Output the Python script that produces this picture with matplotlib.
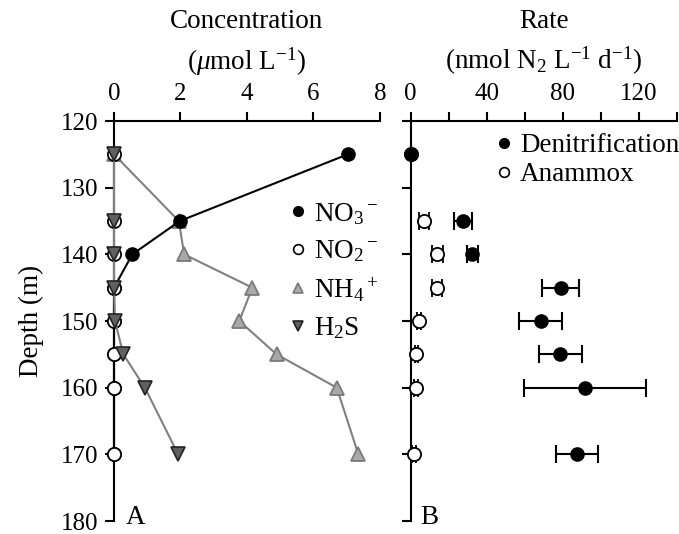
import numpy as np
import matplotlib
matplotlib.use("Agg")
import matplotlib.pyplot as plt
from matplotlib.lines import Line2D

plt.rcParams['font.family'] = ['Liberation Serif', 'DejaVu Serif']
plt.rcParams['mathtext.fontset'] = 'custom'
plt.rcParams['mathtext.rm'] = 'Liberation Serif'
plt.rcParams['mathtext.it'] = 'Liberation Serif:italic'
plt.rcParams['mathtext.bf'] = 'Liberation Serif:bold'
plt.rcParams['font.size'] = 18

# ---- data ----
depth = [125, 135, 140, 145, 150, 155, 160, 170]
no3 = [7.03, 1.98, 0.55, 0.0, 0.0, 0.0, 0.0, 0.0]
no2 = [0.0, 0.0, 0.0, 0.0, 0.0, 0.0, 0.0, 0.0]
nh4 = [0.0, 1.95, 2.11, 4.16, 3.77, 4.89, 6.70, 7.35]
h2s = [0.0, 0.0, 0.0, 0.0, 0.03, 0.28, 0.93, 1.93]

denit = [0.0, 27.5, 32.3, 78.9, 68.4, 78.8, 91.6, 87.5]
denit_err = [0.0, 4.7, 2.9, 9.6, 11.4, 11.4, 32.2, 11.0]
anammox = [0.0, 7.0, 14.0, 13.9, 4.3, 3.0, 2.6, 1.9]
anammox_err = [0.0, 2.6, 2.8, 2.8, 1.0, 1.0, 1.0, 1.0]

conc_ticks = [0, 2, 4, 6, 8]
rate_ticks = [0, 40, 80, 120]
depth_ticks = [120, 130, 140, 150, 160, 170, 180]

FS = 19.5
fig = plt.figure(figsize=(6.79, 5.34), dpi=100)
axA = fig.add_axes([0.1679, 0.0243, 0.3917, 0.7491])
axB = fig.add_axes([0.6049, 0.0243, 0.3917, 0.7491])

def style(ax):
    for s in ['right', 'bottom']:
        ax.spines[s].set_visible(False)
    for s in ['top', 'left']:
        ax.spines[s].set_linewidth(1.5)
        ax.spines[s].set_zorder(1)
    ax.xaxis.tick_top()
    ax.xaxis.set_label_position('top')
    ax.tick_params(which='both', direction='out', length=6.5, width=1.5, labelsize=18, pad=5)
    ax.set_ylim(180, 120)
    ax.set_yticks(depth_ticks)

style(axA)
style(axB)

ms = 9.5
# Panel A
axA.plot(nh4, depth, '-^', color='#808080', mfc='#a8a8a8', mec='#7a7a7a', ms=ms, mew=1.3, lw=1.5, zorder=3, clip_on=False)
axA.plot(no3, depth, '-o', color='black', mfc='black', mec='black', ms=ms, lw=1.5, zorder=4, clip_on=False)
axA.plot(no2, depth, '-o', color='black', mfc='white', mec='black', ms=ms, mew=1.3, lw=1.5, zorder=5, clip_on=False)
axA.plot(h2s, depth, '-v', color='#808080', mfc='#606060', mec='#222222', ms=ms, mew=1.2, lw=1.5, zorder=6, clip_on=False)
axA.set_xlim(0, 8)
axA.set_xticks(conc_ticks)
axA.set_xticklabels([str(t) for t in conc_ticks])
axA.set_ylabel('Depth (m)', fontsize=FS, labelpad=12)
axA.set_xlabel('Concentration\n($\\mu$mol L$^{-1}$)', fontsize=FS, labelpad=10, linespacing=1.45)
axA.text(0.35, 180.4, 'A', fontsize=FS, va='baseline', ha='left')

lms = 7
handlesA = [
    Line2D([], [], ls='none', marker='o', mfc='black', mec='black', ms=lms),
    Line2D([], [], ls='none', marker='o', mfc='white', mec='black', ms=lms, mew=1.2),
    Line2D([], [], ls='none', marker='^', mfc='#a8a8a8', mec='#7a7a7a', ms=lms, mew=1.2),
    Line2D([], [], ls='none', marker='v', mfc='#606060', mec='#222222', ms=lms, mew=1.2),
]
labelsA = ['NO$_3$$^-$', 'NO$_2$$^-$', 'NH$_4$$^+$', 'H$_2$S']
axA.legend(handlesA, labelsA, loc='upper left', bbox_to_anchor=(0.66, 0.80), frameon=False,
           fontsize=FS, handlelength=0.6, handletextpad=0.3, labelspacing=0.42, borderpad=0, borderaxespad=0)

# Panel B
eb1 = axB.errorbar(anammox, depth, xerr=anammox_err, fmt='o', color='black', mfc='white', mec='black',
                   ms=ms, mew=1.3, elinewidth=1.5, capsize=6.5, capthick=1.5, zorder=3)
eb2 = axB.errorbar(denit, depth, xerr=denit_err, fmt='o', color='black', mfc='black', mec='black',
                   ms=ms, elinewidth=1.5, capsize=6.5, capthick=1.5, zorder=3)
for eb in (eb1, eb2):
    for art in eb.get_children():
        art.set_clip_on(False)
axB.set_xlim(0, 140)
axB.set_xticks(rate_ticks)
axB.set_xticks([20, 60, 100, 140], minor=True)
axB.set_xticklabels([str(t) for t in rate_ticks])
axB.set_yticklabels([])
axB.set_xlabel('Rate\n(nmol N$_2$ L$^{-1}$ d$^{-1}$)', fontsize=FS, labelpad=10, linespacing=1.45)
axB.text(5.0, 180.4, 'B', fontsize=FS, va='baseline', ha='left')

handlesB = [
    Line2D([], [], ls='none', marker='o', mfc='black', mec='black', ms=lms),
    Line2D([], [], ls='none', marker='o', mfc='white', mec='black', ms=lms, mew=1.2),
]
axB.legend(handlesB, ['Denitrification', 'Anammox'], loc='upper left', bbox_to_anchor=(0.32, 0.97),
           frameon=False, fontsize=FS, handlelength=0.6, handletextpad=0.3, labelspacing=0.15,
           borderpad=0, borderaxespad=0)

fig.savefig('out.png', dpi=100)
